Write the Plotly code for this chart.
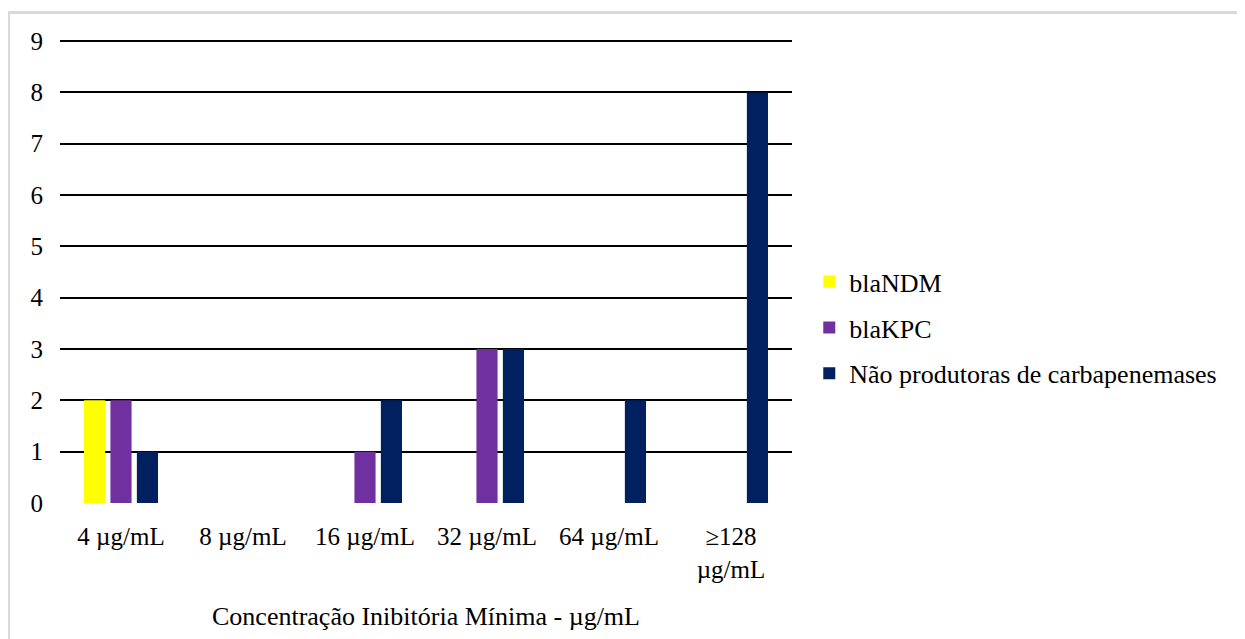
import plotly.graph_objects as go

categories = ["4 µg/mL", "8 µg/mL", "16 µg/mL", "32 µg/mL", "64 µg/mL", "≥128<br>µg/mL"]
bla_ndm = [2, 0, 0, 0, 0, 0]
bla_kpc = [2, 0, 1, 3, 0, 0]
nao_prod = [1, 0, 2, 3, 2, 8]
y_ticks = [0, 1, 2, 3, 4, 5, 6, 7, 8, 9]

FONT = "Liberation Serif"
FS = 25

fig = go.Figure()
series = [
    ("blaNDM", bla_ndm, "#FFFF00"),
    ("blaKPC", bla_kpc, "#7030A0"),
    ("Não produtoras de carbapenemases", nao_prod, "#002060"),
]
for name, vals, color in series:
    fig.add_trace(go.Bar(
        x=categories, y=vals, name=name, legendgroup=name,
        marker=dict(color=color, line=dict(width=0)),
    ))

fig.update_layout(
    width=1245, height=639,
    margin=dict(l=52, r=461, t=30, b=144),
    paper_bgcolor="white", plot_bgcolor="white",
    font=dict(family=FONT, size=FS, color="black"),
    barmode="group", bargap=0.35, bargroupgap=0.2,
    showlegend=True,
    legend=dict(
        x=1.0236, xanchor="left", y=0.377, yanchor="middle",
        font=dict(family=FONT, size=26, color="black"),
        tracegroupgap=9, itemwidth=30, bgcolor="rgba(0,0,0,0)",
    ),
    xaxis=dict(
        showgrid=False, showline=False, ticks="",
        ticklabelstandoff=16,
        tickfont=dict(family=FONT, size=FS, color="black"),
        title=dict(text="Concentração Inibitória Mínima - µg/mL", standoff=25,
                   font=dict(family=FONT, size=26, color="black")),
    ),
    yaxis=dict(
        range=[0, 9.06], tickvals=y_ticks, showgrid=True, gridcolor="black", gridwidth=2,
        zeroline=True, zerolinecolor="white", zerolinewidth=3,
        showline=False, ticks="", ticklabelstandoff=16,
        tickfont=dict(family=FONT, size=FS, color="black"),
    ),
    shapes=[dict(
        type="rect", xref="paper", yref="paper",
        x0=-0.0704, x1=1.6148, y0=-0.35, y1=1.0548,
        line=dict(color="#D9D9D9", width=3), fillcolor="rgba(0,0,0,0)", layer="below",
    )],
)

fig.write_html("out.html")
